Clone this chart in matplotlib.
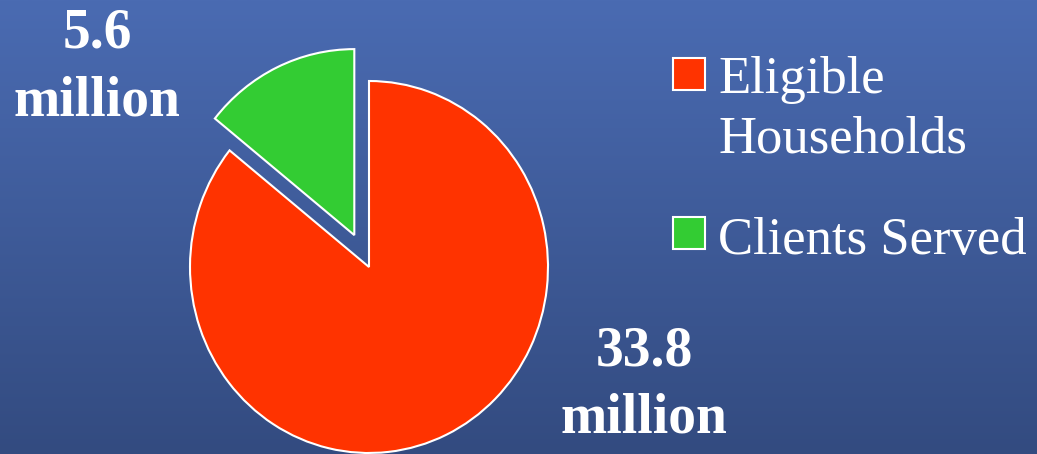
import numpy as np
import matplotlib
matplotlib.use("Agg")
import matplotlib.pyplot as plt
from matplotlib.patches import Rectangle
from matplotlib.colors import LinearSegmentedColormap

labels = ["Eligible\nHouseholds", "Clients Served"]
values = [33.8, 5.6]
value_labels = ["33.8\nmillion", "5.6\nmillion"]
colors = ["#FF3300", "#33CC33"]
explode = [0, 0.19]

W, H = 1037, 454
plt.rcParams['font.family'] = ['Liberation Serif', 'DejaVu Serif']

fig = plt.figure(figsize=(W / 100, H / 100), dpi=100)

# gradient background
bg = fig.add_axes([0, 0, 1, 1])
cmap = LinearSegmentedColormap.from_list("bg", ["#4A6BB2", "#334B80"])
bg.imshow(np.linspace(0, 1, 256).reshape(-1, 1), aspect="auto", cmap=cmap,
          extent=[0, 1, 0, 1])
bg.set_axis_off()


def fx(x):
    return x / W


def fy(y):
    return 1 - y / H


# pie axes: centre at (369, 267) px, radius ~179 px wide, ~186 px tall
cx, cy, rx, ry, lim = 369, 267, 179, 186, 1.3
ax = fig.add_axes([fx(cx - lim * rx), fy(cy + lim * ry), 2 * lim * rx / W, 2 * lim * ry / H])
ax.pie(values, colors=colors, explode=explode, startangle=90, counterclock=False,
       wedgeprops=dict(edgecolor="white", linewidth=1.5))
ax.set_xlim(-lim, lim)
ax.set_ylim(-lim, lim)
ax.set_aspect("auto")
ax.set_axis_off()

# value labels
fig.text(fx(644), fy(326), value_labels[0], color="white", fontsize=40,
         fontweight="bold", ha="center", va="top", linespacing=1.37)
fig.text(fx(97), fy(7), value_labels[1], color="white", fontsize=40,
         fontweight="bold", ha="center", va="top", linespacing=1.4)

# legend
box_y = [58, 217]
text_y = [-2, 0]
for lab, col, y, ty in zip(labels, colors, box_y, text_y):
    fig.patches.append(Rectangle((fx(673), fy(y + 32)), 32 / W, 32 / H,
                                 transform=fig.transFigure, facecolor=col,
                                 edgecolor="white", linewidth=1.5))
    fig.text(fx(718), fy(y + ty), lab, color="white", fontsize=38,
             ha="left", va="top", linespacing=1.31)

fig.savefig("out.png", dpi=100)
